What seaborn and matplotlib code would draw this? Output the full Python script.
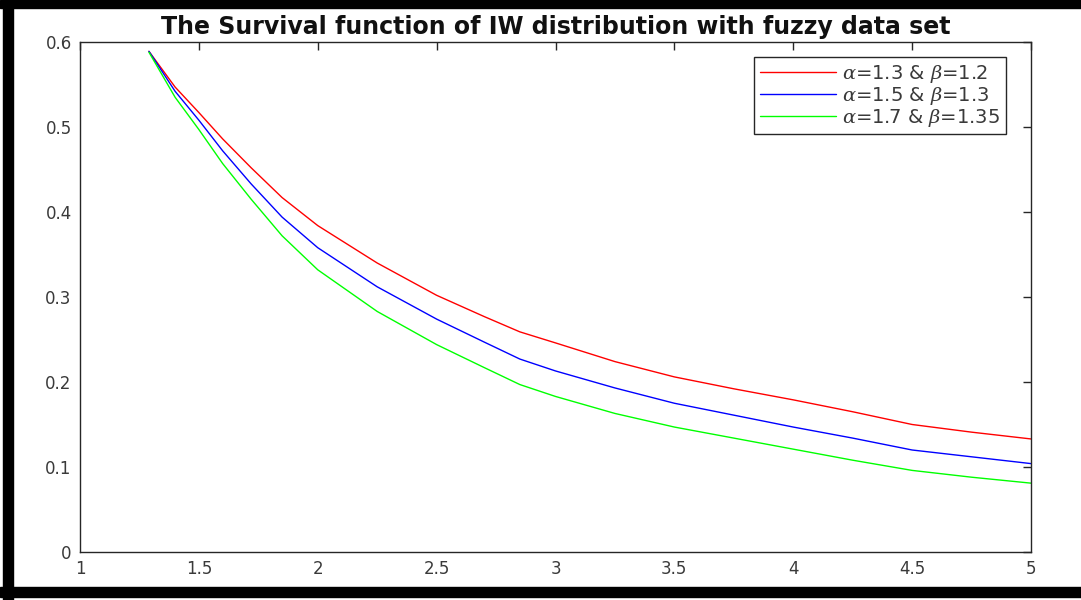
import matplotlib
matplotlib.use("Agg")
import matplotlib.pyplot as plt
from matplotlib.patches import Rectangle
import seaborn as sns
import pandas as pd

# ---- data ----
x_vals = [1.29, 1.40, 1.50, 1.60, 1.72, 1.85, 2.00, 2.25, 2.50, 2.70, 2.85, 3.00,
          3.25, 3.50, 3.75, 4.00, 4.25, 4.50, 4.75, 5.00]
s_red = [0.589, 0.547, 0.517, 0.486, 0.452, 0.417, 0.384, 0.340, 0.302, 0.277,
         0.259, 0.246, 0.224, 0.206, 0.192, 0.179, 0.165, 0.150, 0.141, 0.133]
s_blue = [0.589, 0.542, 0.508, 0.472, 0.433, 0.394, 0.358, 0.312, 0.274, 0.247,
          0.227, 0.213, 0.193, 0.175, 0.161, 0.147, 0.134, 0.120, 0.112, 0.104]
s_green = [0.588, 0.535, 0.497, 0.457, 0.415, 0.372, 0.332, 0.283, 0.244, 0.217,
           0.197, 0.183, 0.163, 0.147, 0.134, 0.121, 0.108, 0.096, 0.088, 0.081]
labels = [r"$\alpha$=1.3 & $\beta$=1.2",
          r"$\alpha$=1.5 & $\beta$=1.3",
          r"$\alpha$=1.7 & $\beta$=1.35"]
colors = ["#ff0000", "#0000ff", "#00ff00"]
title = "The Survival function of IW distribution with fuzzy data set"
x_ticks = [1, 1.5, 2, 2.5, 3, 3.5, 4, 4.5, 5]
x_ticklabels = ["1", "1.5", "2", "2.5", "3", "3.5", "4", "4.5", "5"]
y_ticks = [0, 0.1, 0.2, 0.3, 0.4, 0.5, 0.6]
y_ticklabels = ["0", "0.1", "0.2", "0.3", "0.4", "0.5", "0.6"]

sns.set_style("white")
plt.rcParams["font.family"] = ["DejaVu Sans"]
plt.rcParams["mathtext.fontset"] = "custom"
plt.rcParams["mathtext.it"] = "DejaVu Serif:italic"
plt.rcParams["mathtext.rm"] = "DejaVu Sans"

fig = plt.figure(figsize=(10.81, 6.0), dpi=100)
ax = fig.add_axes([80 / 1081, 48 / 600, 951 / 1081, 510 / 600])

df = pd.DataFrame({"x": x_vals * 3,
                   "S": s_red + s_blue + s_green,
                   "series": [labels[0]] * len(x_vals) + [labels[1]] * len(x_vals)
                   + [labels[2]] * len(x_vals)})
sns.lineplot(data=df, x="x", y="S", hue="series", palette=dict(zip(labels, colors)),
             hue_order=labels, linewidth=1.0, ax=ax, estimator=None, sort=False)

ax.set_xlim(1, 5)
ax.set_ylim(0, 0.6)
ax.set_xticks(x_ticks)
ax.set_xticklabels(x_ticklabels)
ax.set_yticks(y_ticks)
ax.set_yticklabels(y_ticklabels)
ax.set_xlabel("")
ax.set_ylabel("")
axcol = "#262626"
for sp in ax.spines.values():
    sp.set_visible(True)
    sp.set_color(axcol)
    sp.set_linewidth(1.0)
ax.tick_params(direction="in", top=True, right=True, length=6, width=1.0,
               color=axcol, labelcolor="#3a3a3a", labelsize=12)
ax.tick_params(axis="y", pad=6)
ax.tick_params(axis="x", pad=6)

ax.set_title(title, fontsize=17, fontweight="bold", color="#111111", pad=6)

leg = ax.legend(loc="upper right", bbox_to_anchor=(0.974, 0.971), borderaxespad=0,
                fontsize=14, frameon=True, fancybox=False, framealpha=1,
                edgecolor=axcol, handlelength=3.9, labelspacing=0.0,
                handletextpad=0.35, borderpad=0.3)
leg.get_frame().set_linewidth(1.0)
for t in leg.get_texts():
    t.set_color("#3a3a3a")

# black frame around the picture (top, bottom, left)
fig.patches.append(Rectangle((0, 1 - 8 / 600), 1, 8 / 600, transform=fig.transFigure,
                             color="black", zorder=10))
fig.patches.append(Rectangle((0, 3 / 600), 1, 10 / 600, transform=fig.transFigure,
                             color="black", zorder=10))
fig.patches.append(Rectangle((3 / 1081, 0), 10 / 1081, 1, transform=fig.transFigure,
                             color="black", zorder=10))

fig.savefig("out.png", dpi=100)
